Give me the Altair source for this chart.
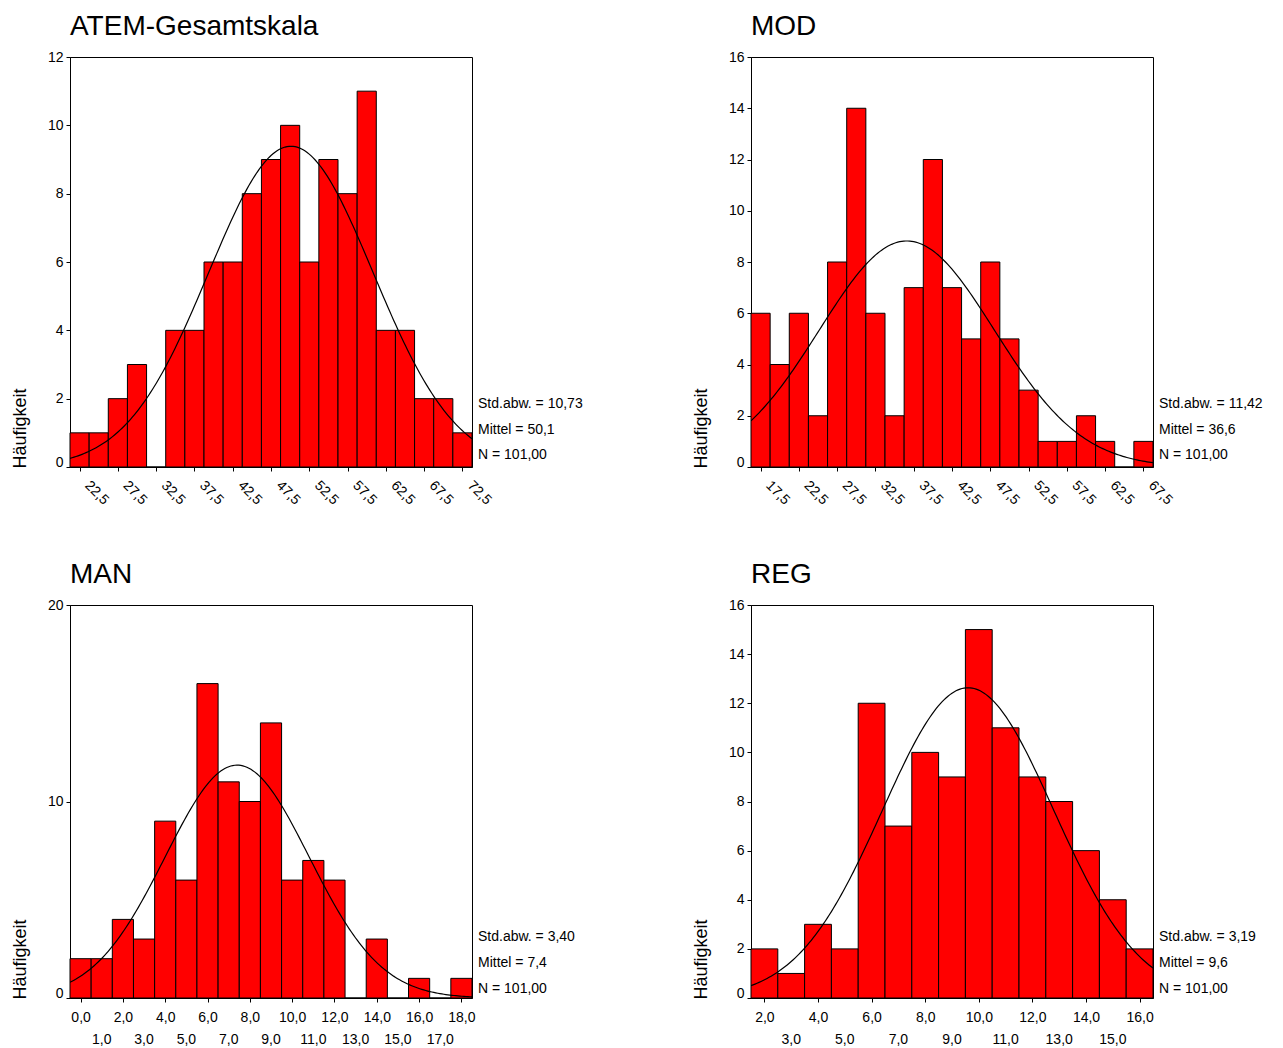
import altair as alt
import pandas as pd

FONT = "Liberation Sans"

# ---------------- data ----------------
titles = ["ATEM-Gesamtskala", "MOD", "MAN", "REG"]

atem_centers = [22.5, 25.0, 27.5, 30.0, 32.5, 35.0, 37.5, 40.0, 42.5, 45.0, 47.5,
                50.0, 52.5, 55.0, 57.5, 60.0, 62.5, 65.0, 67.5, 70.0, 72.5]
atem_counts = [1, 1, 2, 3, 0, 4, 4, 6, 6, 8, 9, 10, 6, 9, 8, 11, 4, 4, 2, 2, 1]
atem_ticks = [22.5, 27.5, 32.5, 37.5, 42.5, 47.5, 52.5, 57.5, 62.5, 67.5, 72.5]

mod_centers = [17.5, 20.0, 22.5, 25.0, 27.5, 30.0, 32.5, 35.0, 37.5, 40.0, 42.5,
               45.0, 47.5, 50.0, 52.5, 55.0, 57.5, 60.0, 62.5, 65.0, 67.5]
mod_counts = [6, 4, 6, 2, 8, 14, 6, 2, 7, 12, 7, 5, 8, 5, 3, 1, 1, 2, 1, 0, 1]
mod_ticks = [17.5, 22.5, 27.5, 32.5, 37.5, 42.5, 47.5, 52.5, 57.5, 62.5, 67.5]

man_centers = [0, 1, 2, 3, 4, 5, 6, 7, 8, 9, 10, 11, 12, 13, 14, 15, 16, 17, 18]
man_counts = [2, 2, 4, 3, 9, 6, 16, 11, 10, 14, 6, 7, 6, 0, 3, 0, 1, 0, 1]
man_ticks = [0, 1, 2, 3, 4, 5, 6, 7, 8, 9, 10, 11, 12, 13, 14, 15, 16, 17, 18]

reg_centers = [2, 3, 4, 5, 6, 7, 8, 9, 10, 11, 12, 13, 14, 15, 16]
reg_counts = [2, 1, 3, 2, 12, 7, 10, 9, 15, 11, 9, 8, 6, 4, 2]
reg_ticks = [2, 3, 4, 5, 6, 7, 8, 9, 10, 11, 12, 13, 14, 15, 16]

bin_widths = [2.5, 2.5, 1.0, 1.0]
std_values = [10.73, 11.42, 3.40, 3.19]
mean_values = [50.1, 36.6, 7.4, 9.6]
n_value = 101
std_labels = ["Std.abw. = 10,73", "Std.abw. = 11,42", "Std.abw. = 3,40", "Std.abw. = 3,19"]
mean_labels = ["Mittel = 50,1", "Mittel = 36,6", "Mittel = 7,4", "Mittel = 9,6"]
n_labels = ["N = 101,00", "N = 101,00", "N = 101,00", "N = 101,00"]

y_ticks = [[0, 2, 4, 6, 8, 10, 12], [0, 2, 4, 6, 8, 10, 12, 14, 16],
           [0, 10, 20], [0, 2, 4, 6, 8, 10, 12, 14, 16]]
y_max = [12, 16, 20, 16]

# ---------------- layout ----------------
W = 402
H_TOP = 410
H_BOT = 393
COMMA = "replace(format(datum.value, '.1f'), '.', ',')"


def comma(v):
    return f"{v:.1f}".replace(".", ",")


def panel(idx, centers, counts, xticks, height, rotated):
    bw = bin_widths[idx]
    lo = centers[0] - bw / 2
    hi = centers[-1] + bw / 2
    df = pd.DataFrame({"center": centers, "count": counts})
    xscale = alt.Scale(domain=[lo, hi], nice=False, zero=False)
    yscale = alt.Scale(domain=[0, y_max[idx]], nice=False, zero=True)

    if rotated:
        xaxis = alt.Axis(values=xticks, labelExpr=COMMA, labelAngle=45,
                         labelAlign="left", labelBaseline="middle",
                         labelOffset=7, labelPadding=12, labelFontSize=14,
                         labelOverlap=False, labelFlush=False, title=None)
    else:
        xaxis = alt.Axis(values=xticks,
                         labelExpr="datum.value % 2 == 0 ? " + COMMA + " : ''",
                         labelAngle=0, labelAlign="center", labelBaseline="top",
                         labelPadding=8, labelFontSize=14,
                         labelOverlap=False, labelFlush=False, title=None)

    yaxis = alt.Axis(values=y_ticks[idx], labelFontSize=14, labelPadding=3,
                     labelOffset={"condition": {"test": "datum.value == 0", "value": -5},
                                  "value": 0},
                     title="Häufigkeit", titleFontSize=18, titleFont=FONT,
                     titleFontWeight="normal", titleAngle=270, titleAlign="left",
                     titleBaseline="middle", titleX=-50, titleY=height + 1,
                     labelOverlap=False)

    bars = alt.Chart(df).transform_calculate(
        lo=f"datum.center - {bw / 2}", hi=f"datum.center + {bw / 2}"
    ).mark_bar(color="#FF0000", stroke="black", strokeWidth=1).encode(
        x=alt.X("lo:Q", scale=xscale, axis=xaxis),
        x2="hi:Q",
        y=alt.Y("count:Q", scale=yscale, axis=yaxis),
        y2=alt.datum(0),
    )

    sd = std_values[idx]
    m = mean_values[idx]
    step = (hi - lo) / 200
    curve = alt.Chart(alt.sequence(lo, hi + step / 2, step, as_="x")).transform_calculate(
        y=f"{n_value * bw} / ({sd} * sqrt(2 * PI)) * exp(-0.5 * pow((datum.x - {m}) / {sd}, 2))"
    ).mark_line(color="black", strokeWidth=1.2, clip=True).encode(
        x=alt.X("x:Q", scale=xscale),
        y=alt.Y("y:Q", scale=yscale),
    )

    offs = [63, 37.5, 12] if height == H_TOP else [61.5, 35.5, 9.5]
    texts = [std_labels[idx], mean_labels[idx], n_labels[idx]]
    one = pd.DataFrame({"k": [0]})
    stats = [
        alt.Chart(one).mark_text(align="left", baseline="middle", fontSize=14,
                                 font=FONT, color="black").encode(
            x=alt.value(W + 6), y=alt.value(height - o), text=alt.value(t))
        for t, o in zip(texts, offs)
    ]

    layers = [bars, curve, *stats]
    if not rotated:
        odd = [v for v in xticks if v % 2 == 1]
        odd_df = pd.DataFrame({"v": odd, "lab": [comma(v) for v in odd]})
        second_row = alt.Chart(odd_df).mark_text(
            align="center", baseline="top", fontSize=14, font=FONT, color="black"
        ).encode(
            x=alt.X("v:Q", scale=xscale),
            y=alt.value(height + 35),
            text="lab:N",
        )
        layers.append(second_row)

    return alt.layer(*layers).properties(
        width=W, height=height,
        title=alt.TitleParams(titles[idx], anchor="start", frame="group",
                              fontSize=28, font=FONT, fontWeight="normal",
                              color="black", offset=9),
    )


p1 = panel(0, atem_centers, atem_counts, atem_ticks, H_TOP, True)
p2 = panel(1, mod_centers, mod_counts, mod_ticks, H_TOP, True)
p3 = panel(2, man_centers, man_counts, man_ticks, H_BOT, False)
p4 = panel(3, reg_centers, reg_counts, reg_ticks, H_BOT, False)

chart = alt.concat(
    p1, p2, p3, p4, columns=2,
    spacing={"row": 138, "column": 279}, bounds="flush"
).properties(
    padding={"left": 2, "top": 4, "right": 4, "bottom": 4}
).configure(
    font=FONT, background="white"
).configure_view(
    stroke="black", strokeWidth=1
).configure_axis(
    grid=False, domainColor="black", tickColor="black", labelColor="black",
    titleColor="black", tickSize=4, labelFont=FONT, domainWidth=1, tickWidth=1
)

chart.save("out.html", embed_options={"renderer": "svg", "actions": False})
